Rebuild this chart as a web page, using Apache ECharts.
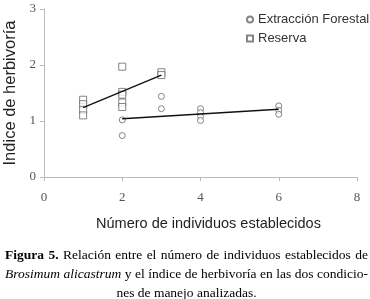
<!DOCTYPE html>
<html>
<head>
<meta charset="utf-8">
<script src="https://cdn.jsdelivr.net/npm/echarts@6/dist/echarts.min.js"></script>
<style>
  html, body { margin: 0; padding: 0; background: #fff; }
  #chart { width: 370px; height: 299px; position: absolute; left: 0; top: 0; }
  #caption { position: absolute; left: 5px; top: 245px; width: 363px;
    font-family: "Liberation Serif", "Times New Roman", serif; font-size: 13.5px; line-height: 19px; color: #000; }
  #caption .j { text-align: justify; text-align-last: justify; white-space: nowrap; }
  #caption .c { text-align: center; }
</style>
</head>
<body>
<div id="chart"></div>
<div id="caption">
  <div class="j"><b>Figura 5.</b> Relación entre el número de individuos establecidos de</div>
  <div class="j"><i>Brosimum alicastrum</i> y el índice de herbivoría en las dos condicio-</div>
  <div class="c">nes de manejo analizadas.</div>
</div>
<script>
// Extracción Forestal (círculos)
let ext_x = [2, 2, 3, 3, 4, 4, 4, 4, 6, 6, 6];
let ext_y = [1.02, 0.74, 1.44, 1.22, 1.22, 1.15, 1.08, 1.01, 1.27, 1.19, 1.12];
// Reserva (cuadrados)
let res_x = [1, 1, 1, 1, 2, 2, 2, 2, 2, 3, 3];
let res_y = [1.38, 1.3, 1.2, 1.1, 1.97, 1.52, 1.47, 1.33, 1.25, 1.87, 1.82];
// líneas de tendencia
let ext_trend_x = [2, 6];
let ext_trend_y = [1.04, 1.21];
let res_trend_x = [1, 3];
let res_trend_y = [1.24, 1.82];

function pairs(xs, ys) {
    let out = [];
    for (let i = 0; i < xs.length; i++) out.push([xs[i], ys[i]]);
    return out;
}

let Chart_main = echarts.init(document.getElementById('chart'));

let tickFont = {
    fontFamily: 'Liberation Serif',
    fontSize: 13,
    color: '#555'
};

option = {
    animation: false,
    grid: {
        left: 44,
        right: 13,
        top: 9,
        bottom: 122,
        outerBoundsMode: 'none',
        containLabel: false
    },
    legend: {
        orient: 'vertical',
        left: 246,
        top: 13,
        padding: 0,
        itemWidth: 6,
        itemHeight: 6,
        itemGap: 6,
        data: ['Extracción Forestal', 'Reserva'],
        textStyle: {
            fontFamily: 'Liberation Sans',
            fontSize: 13,
            color: '#333'
        }
    },
    xAxis: {
        type: 'value',
        min: 0,
        max: 8,
        interval: 2,
        name: 'Número de individuos establecidos',
        nameLocation: 'center',
        nameGap: 39,
        nameTextStyle: {
            fontFamily: 'Liberation Sans',
            fontSize: 14.5,
            color: '#222',
            padding: [0, 0, 0, 16]
        },
        axisLine: { lineStyle: { color: '#bbb', width: 1 } },
        axisTick: { show: true, length: 4, lineStyle: { color: '#bbb' } },
        axisLabel: Object.assign({ margin: 14 }, tickFont),
        splitLine: { show: false }
    },
    yAxis: {
        type: 'value',
        min: 0,
        max: 3,
        interval: 1,
        name: 'Indice de herbivoría',
        nameLocation: 'center',
        nameGap: 18,
        nameTextStyle: {
            fontFamily: 'Liberation Sans',
            fontSize: 16.5,
            color: '#222'
        },
        axisLine: { show: true, lineStyle: { color: '#bbb', width: 1 } },
        axisTick: { show: true, length: 4, lineStyle: { color: '#bbb' } },
        axisLabel: Object.assign({ margin: 8 }, tickFont),
        splitLine: { show: false }
    },
    series: [
        {
            name: 'Extracción Forestal',
            type: 'scatter',
            symbol: 'circle',
            symbolSize: 6,
            itemStyle: { color: '#fff', borderColor: '#666', borderWidth: 1 },
            data: pairs(ext_x, ext_y),
            z: 3
        },
        {
            name: 'Reserva',
            type: 'scatter',
            symbol: 'rect',
            symbolSize: 7,
            itemStyle: { color: '#fff', borderColor: '#666', borderWidth: 1 },
            data: pairs(res_x, res_y),
            z: 3
        },
        {
            type: 'line',
            symbol: 'none',
            lineStyle: { color: '#111', width: 1.4 },
            data: pairs(ext_trend_x, ext_trend_y),
            z: 4
        },
        {
            type: 'line',
            symbol: 'none',
            lineStyle: { color: '#111', width: 1.4 },
            data: pairs(res_trend_x, res_trend_y),
            z: 4
        }
    ]
};

Chart_main.setOption(option);
</script>
</body>
</html>
